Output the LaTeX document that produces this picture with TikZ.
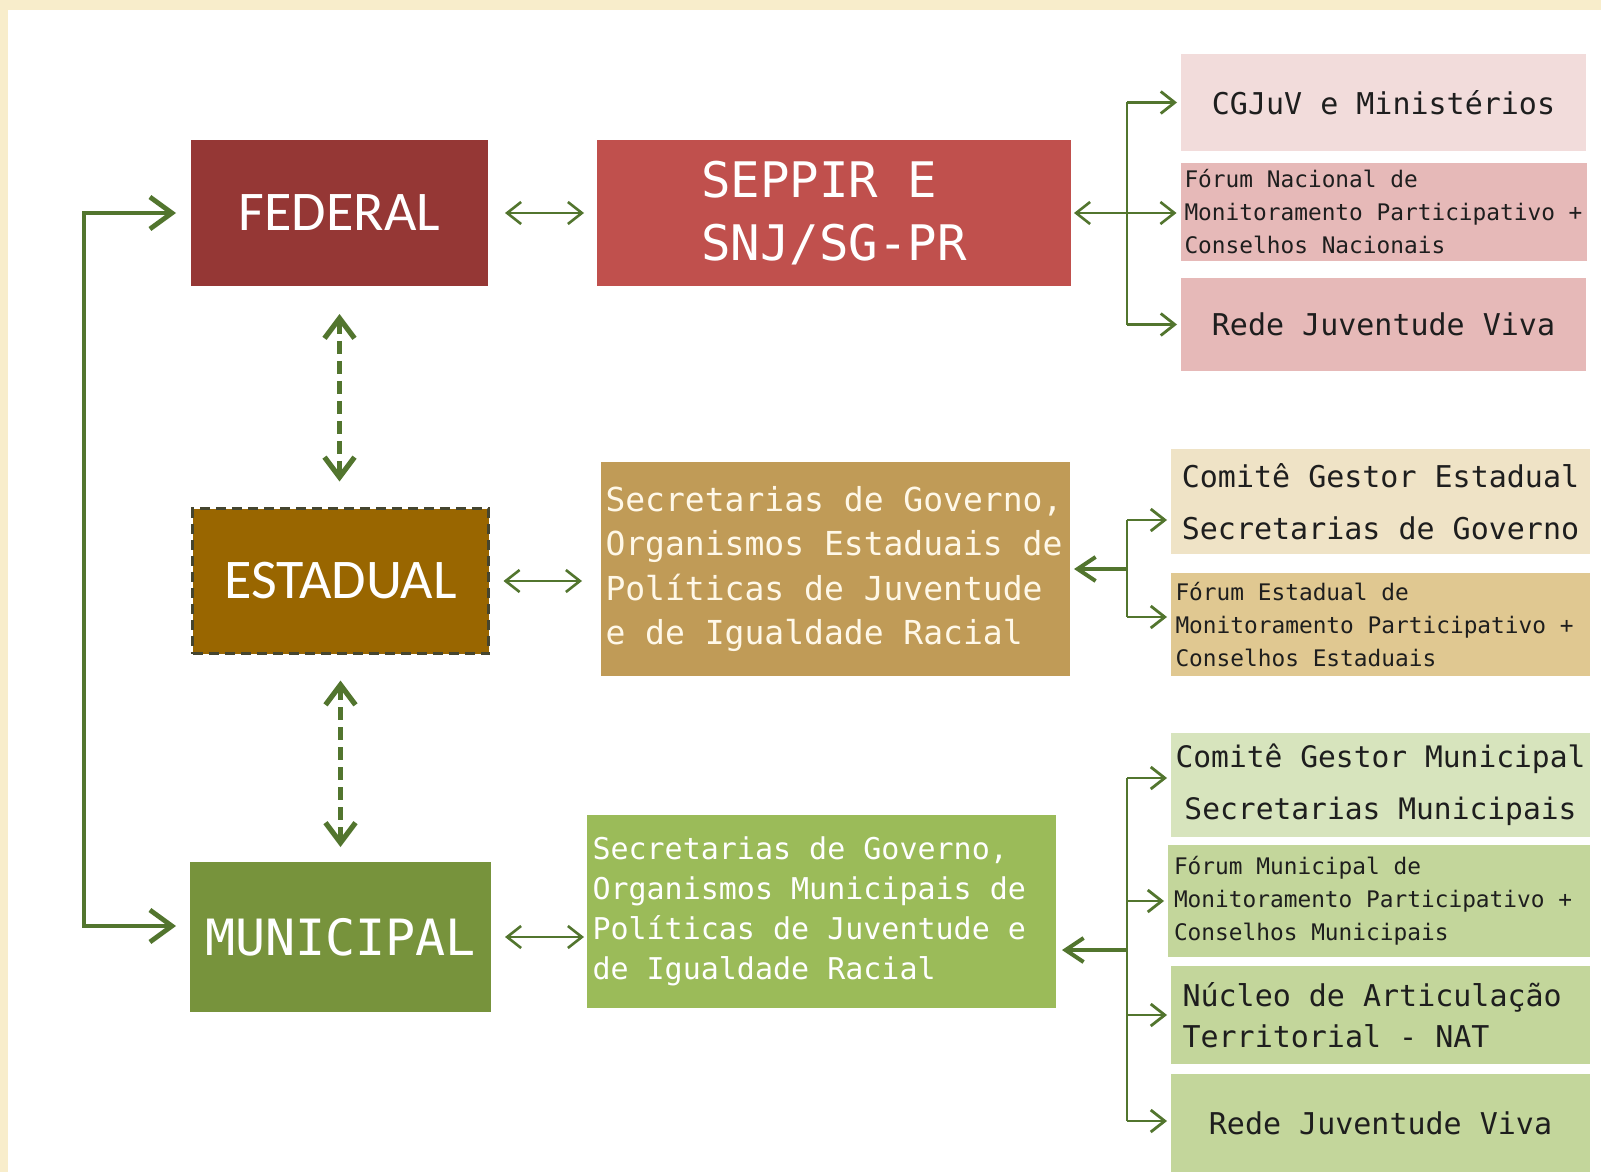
\documentclass[tikz,border=0pt]{standalone}
\usepackage{fontspec}
\setmainfont{Carlito}
\newfontfamily\monofont{DejaVu Sans Mono}
\usetikzlibrary{arrows.meta}
\newcommand\evenspacing{\spaceskip 0pt\relax\xspaceskip 0pt\relax}
\definecolor{bgbeige}{HTML}{F8EDCB}
\definecolor{fedred}{HTML}{953735}
\definecolor{seppred}{HTML}{C0504D}
\definecolor{pinklight}{HTML}{F2DCDB}
\definecolor{pinkmid}{HTML}{E6B9B8}
\definecolor{estbrown}{HTML}{996600}
\definecolor{estborder}{HTML}{45452F}
\definecolor{estsec}{HTML}{C09B57}
\definecolor{tanlight}{HTML}{EFE3C6}
\definecolor{tanmid}{HTML}{E0C891}
\definecolor{munolive}{HTML}{77933C}
\definecolor{munsec}{HTML}{9BBB59}
\definecolor{greenlight}{HTML}{D7E4BD}
\definecolor{greenmid}{HTML}{C3D69B}
\definecolor{arrowgreen}{HTML}{52752E}
\definecolor{textdark}{HTML}{1E1E1E}
\definecolor{creamtext}{HTML}{FFF8E8}
\begin{document}
\begin{tikzpicture}[
            x=0.5pt, y=-0.5pt,
            every node/.style = {inner sep=2pt, outer sep=0pt, align=center},
            monospace/.style = {execute at begin node=\evenspacing},
            level/.style = {rectangle, text=white, font=\fontsize{28}{30}\selectfont},
            organ/.style = {rectangle, monospace, text=white, font=\monofont\fontsize{24.5}{31.5}\selectfont},
            member/.style = {rectangle, monospace, text=textdark, minimum width=209.5pt, font=\monofont\fontsize{15}{20.4}\selectfont},
            forum/.style = {member, align=left, font=\monofont\fontsize{11.4}{16.5}\selectfont},
            link/.style = {draw=arrowgreen, line width=1.3pt, >={Straight Barb[length=7pt,width=11pt]}},
            branch/.style = {draw=arrowgreen, line width=1.4pt},
            feed/.style = {branch, ->, shorten >=2pt, >={Straight Barb[length=7pt,width=11pt]}},
            heavy/.style = {draw=arrowgreen, line width=2pt, ->, >={Straight Barb[length=9pt,width=12pt]}},
            sideline/.style = {draw=arrowgreen, line width=2.4pt, <->, >={Straight Barb[length=11pt,width=16pt]}},
            dashlink/.style = {draw=arrowgreen, line width=2.6pt, dash pattern=on 6.5pt off 3.5pt, <->, >={Straight Barb[length=10pt,width=15pt]}}
          ]
          \fill[bgbeige] (0,0) rectangle (1601,1172);
          \fill[white] (8,10) rectangle (1601,1172);
          \useasboundingbox (0,0) rectangle (1601,1172);

          \node[level, fill=fedred, minimum width=148.5pt, minimum height=73pt] (fed) at (339.5,213) {FEDERAL};
          \node[level, fill=estbrown, draw=estborder, line width=1.5pt, dash pattern=on 5pt off 3pt, minimum width=148pt, minimum height=72.5pt] (est) at (340.5,581) {ESTADUAL};
          \node[level, monospace, fill=munolive, font=\monofont\fontsize{25}{28}\selectfont, minimum width=150.5pt, minimum height=75pt] (mun) at (340.5,937) {MUNICIPAL};

          \node[organ, fill=seppred, align=left, minimum width=237pt, minimum height=73pt] (sep) at (834,213) {SEPPIR E\\SNJ/SG-PR};
          \node[organ, fill=estsec, text=creamtext, align=left, text width=230pt, minimum width=234.5pt, minimum height=107pt, font=\monofont\fontsize{16.5}{22.2}\selectfont] (sest) at (835.5,569) {Secretarias de Governo,\\Organismos Estaduais de\\Políticas de Juventude\\e de Igualdade Racial};
          \node[organ, fill=munsec, align=left, text width=229pt, minimum width=234.5pt, minimum height=96.5pt, font=\monofont\fontsize{15}{20}\selectfont] (smun) at (821.5,911.5) {Secretarias de Governo,\\Organismos Municipais de\\Políticas de Juventude e\\de Igualdade Racial};

          \node[member, fill=pinklight, minimum width=202.5pt, minimum height=48.5pt] (cgj) at (1383.5,102.5) {CGJuV e Ministérios};
          \node[forum, fill=pinkmid, text width=199pt, minimum width=202.5pt, minimum height=49pt] (fnac) at (1383.5,212) {Fórum Nacional de\\Monitoramento Participativo +\\Conselhos Nacionais};
          \node[member, fill=pinkmid, minimum width=202.5pt, minimum height=46.5pt] (rfed) at (1383.5,324.5) {Rede Juventude Viva};

          \node[member, fill=tanlight, minimum height=52.5pt, font=\monofont\fontsize{15}{26}\selectfont] (cest) at (1380.5,501.5) {Comitê Gestor Estadual\\Secretarias de Governo};
          \node[forum, fill=tanmid, text width=205pt, minimum height=51.5pt] (fest) at (1380.5,624.5) {Fórum Estadual de\\Monitoramento Participativo +\\Conselhos Estaduais};

          \node[member, fill=greenlight, minimum height=52pt, font=\monofont\fontsize{14.8}{26}\selectfont] (cmun) at (1380.5,785) {Comitê Gestor Municipal\\Secretarias Municipais};
          \node[forum, fill=greenmid, text width=205pt, minimum width=211pt, minimum height=56pt] (fmun) at (1379,901) {Fórum Municipal de\\Monitoramento Participativo +\\Conselhos Municipais};
          \node[member, fill=greenmid, align=left, text width=198pt, minimum height=49pt] (nat) at (1380.5,1015) {Núcleo de Articulação\\Territorial - NAT};
          \node[member, fill=greenmid, minimum height=49pt] (rmun) at (1380.5,1123) {Rede Juventude Viva};

          \coordinate (fb) at (1127,213);
          \coordinate (e1) at (1127,520);
          \coordinate (eb) at (1127,569);
          \coordinate (e2) at (1127,617);
          \coordinate (m1) at (1127,778);
          \coordinate (mb) at (1127,950);
          \coordinate (m4) at (1127,1121);
          \coordinate (ltop) at (84,213);
          \coordinate (lbot) at (84,926);

          \draw[link, <->, shorten <=8.5pt, shorten >=6.5pt] (fed.east) -- (sep.west);
          \draw[link, <->, shorten <=7.5pt, shorten >=9.5pt] (est.east) -- (est.east -| sest.west);
          \draw[link, <->, shorten <=7pt, shorten >=1.5pt] (mun.east) -- (mun.east -| smun.west);

          \draw[dashlink, shorten <=14pt, shorten >=13.5pt] (fed.south) -- (fed.south |- est.north);
          \draw[dashlink, shorten <=13.5pt, shorten >=7.5pt] (est.south) -- (est.south |- mun.north);
          \draw[sideline, shorten <=7.5pt, shorten >=7pt] (fed.west) -- (ltop) -- (lbot) -- (lbot -| mun.west);

          \draw[branch] (fb |- cgj.west) -- (fb |- rfed.west);
          \draw[link, <->, shorten <=1.5pt, shorten >=2pt] (sep.east) -- (sep.east -| fnac.west);
          \draw[feed] (fb |- cgj.west) -- (cgj.west);
          \draw[feed] (fb |- rfed.west) -- (rfed.west);

          \draw[branch] (e1) -- (e2);
          \draw[heavy, shorten >=2pt] (eb) -- (eb -| sest.east);
          \draw[feed] (e1) -- (e1 -| cest.west);
          \draw[feed] (e2) -- (e2 -| fest.west);

          \draw[branch] (m1) -- (m4);
          \draw[heavy, shorten >=3pt] (mb) -- (mb -| smun.east);
          \draw[feed] (m1) -- (m1 -| cmun.west);
          \draw[feed] (fb |- fmun.west) -- (fmun.west);
          \draw[feed] (fb |- nat.west) -- (nat.west);
          \draw[feed] (m4) -- (m4 -| rmun.west);
        \end{tikzpicture}
\end{document}
